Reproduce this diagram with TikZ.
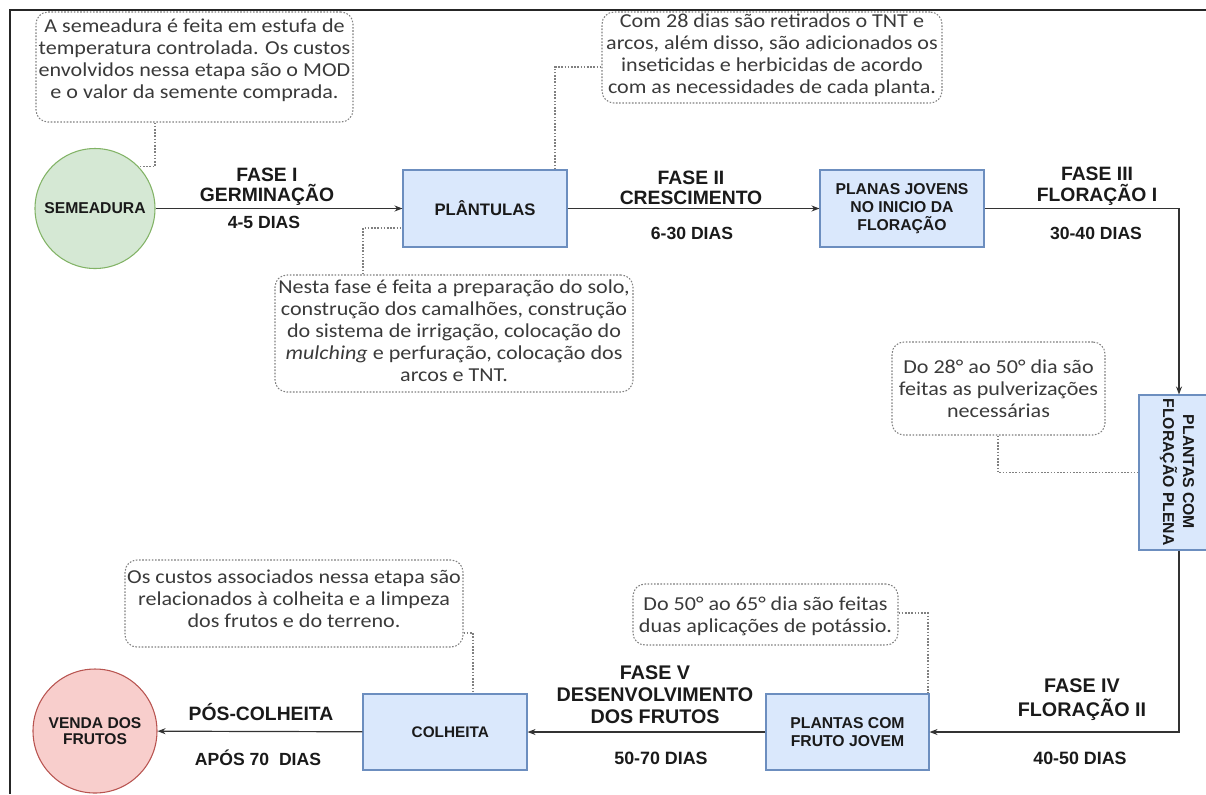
\documentclass[tikz,border=0pt]{standalone}
\usepackage{fontspec}
\setsansfont{Liberation Sans}
\newfontfamily\notefont[FakeStretch=1.12]{Carlito}
\usetikzlibrary{arrows.meta}
\definecolor{gfill}{HTML}{D5E8D4}\definecolor{gline}{HTML}{82B366}
\definecolor{bfill}{HTML}{DAE8FC}\definecolor{bline}{HTML}{6C8EBF}
\definecolor{rfill}{HTML}{F8CECC}\definecolor{rline}{HTML}{B85450}
\definecolor{txt}{HTML}{1A1A1A}\definecolor{notetxt}{HTML}{3A3A3A}
\definecolor{dotc}{HTML}{808080}\definecolor{edgec}{HTML}{333333}
\begin{document}
\begin{tikzpicture}[x=0.75pt,y=-0.75pt,
 lbl/.style 2 args={font=\sffamily\bfseries\fontsize{#1}{#2}\selectfont,align=center,text=txt,inner sep=0pt},
 notebox/.style 2 args={draw=dotc,line width=0.8pt,dash pattern=on 1.2pt off 1.2pt,rounded corners=9pt,inner sep=0pt,minimum width=#1,minimum height=#2},
 notetext/.style={inner sep=0pt,align=center,text=notetxt,font=\notefont\fontsize{14.8}{16.5}\selectfont},
 conn/.style={draw=dotc,line width=0.8pt,dash pattern=on 1.2pt off 1.2pt},
 flow/.style={draw=edgec,line width=0.9pt,-{Stealth[length=6pt,width=4.5pt]}},
 proc/.style 2 args={draw=bline,fill=bfill,line width=0.8pt,inner sep=0pt,minimum width=#1,minimum height=#2},
]
\useasboundingbox (0,0) rectangle (1206,794);
\clip (0,0) rectangle (1206,794);
% frame
\draw[line width=1.5pt,draw=black!85] (1206,9.5) -- (10,9.5) -- (10,794);
% process nodes
\node[circle,draw=gline,fill=gfill,line width=0.8pt,minimum size=90pt,lbl={11.8}{14}] (sem) at (95,208.5) {SEMEADURA};
\node[proc={123pt}{57.75pt},lbl={12.5}{15}] (pl) at (485,208.5) {PLÂNTULAS};
\node[proc={123pt}{57.75pt},lbl={11.8}{13.5}] (pj) at (902,208.5) {PLANAS JOVENS\\NO INICIO DA\\FLORAÇÃO};
\node[proc={60pt}{116.25pt}] (fp) at (1179,472.5) {};
\node[lbl={11.8}{15},rotate=-90] (fptxt) at (1177,472) {PLANTAS COM\\FLORAÇÃO PLENA};
\node[proc={122.25pt}{57pt},lbl={11.8}{14}] (fj) at (847.5,732) {PLANTAS COM\\FRUTO JOVEM};
\node[proc={123pt}{57pt},lbl={11.5}{13}] (col) at (445,732) {\hspace*{8pt}COLHEITA};
\node[circle,draw=rline,fill=rfill,line width=0.8pt,minimum size=93pt,lbl={11.7}{12}] (ven) at (95,731) {VENDA DOS\\FRUTOS};
% notes
\node[notebox={237.75pt}{82.5pt}] (n1) at (194.5,67) {};
\node[notetext] (n1t) at (194.5,60) {A semeadura é feita em estufa de\\temperatura controlada. Os custos\\envolvidos nessa etapa são o MOD\\e o valor da semente comprada.};
\node[notebox={255pt}{68.25pt}] (n2) at (772,57.5) {};
\node[notetext] (n2t) at (772,55) {Com 28 dias são retirados o TNT e\\arcos, além disso, são adicionados os\\inseticidas e herbicidas de acordo\\com as necessidades de cada planta.};
\node[notebox={268.5pt}{87.75pt}] (n3) at (454,333.5) {};
\node[notetext] (n3t) at (454,331) {Nesta fase é feita a preparação do solo,\\construção dos camalhões, construção\\do sistema de irrigação, colocação do\\\textit{mulching} e perfuração, colocação dos\\arcos e TNT.};
\node[notebox={159.75pt}{69.75pt}] (n4) at (998.5,388.5) {};
\node[notetext] (n4t) at (998.5,389) {Do 28° ao 50° dia são\\feitas as pulverizações\\necessárias};
\node[notebox={198.75pt}{45.75pt}] (n5) at (765.5,614.5) {};
\node[notetext] (n5t) at (765.5,616) {Do 50° ao 65° dia são feitas\\duas aplicações de potássio.};
\node[notebox={253.5pt}{65.25pt}] (n6) at (294,603.5) {};
\node[notetext] (n6t) at (294,599) {Os custos associados nessa etapa são\\relacionados à colheita e a limpeza\\dos frutos e do terreno.};
% note connectors
\coordinate (k1) at (155,0);
\draw[conn] (n1.south -| k1) |- (sem.44);
\coordinate (k2) at (555,67);
\draw[conn] (pl.north -| k2) |- (n2.west |- k2);
\coordinate (k3) at (363,228);
\draw[conn] (n3.north -| k3) |- (pl.west |- k3);
\coordinate (k4) at (998,0);
\draw[conn] (n4.south -| k4) |- (fp.west);
\coordinate (k5) at (928,613);
\draw[conn] (n5.east |- k5) -| (fj.north -| k5);
\coordinate (k6) at (473,633);
\draw[conn] (n6.east |- k6) -| (col.north -| k6);
% flow
\draw[flow] (sem) -- (pl);
\draw[flow] (pl) -- (pj);
\draw[flow] (pj.east) -| (fp.north);
\draw[flow] (fp.south) |- (fj.east);
\draw[flow] (fj) -- (col);
\draw[flow] (col) -- (ven);
% phase labels
\node[lbl={14.5}{15}] (l1) at (267,187) {FASE I\\GERMINAÇÃO};
\node[lbl={13.2}{15}] (d1) at (264,222) {4-5 DIAS};
\node[lbl={14.5}{15}] (l2) at (691,188) {FASE II\\CRESCIMENTO};
\node[lbl={13.2}{15}] (d2) at (692,233) {6-30 DIAS};
\node[lbl={14.5}{16}] (l3) at (1097,186) {FASE III\\FLORAÇÃO I};
\node[lbl={13.2}{15}] (d3) at (1096,233) {30-40 DIAS};
\node[lbl={14.8}{18}] (l4) at (1082,700) {FASE IV\\FLORAÇÃO II};
\node[lbl={13.4}{15}] (d4) at (1080,758) {40-50 DIAS};
\node[lbl={14.8}{16.5}] (l5) at (655,695) {FASE V\\DESENVOLVIMENTO\\DOS FRUTOS};
\node[lbl={13.4}{15}] (d5) at (661,758) {50-70 DIAS};
\node[lbl={14.5}{15}] (l6) at (261,712) {PÓS-COLHEITA};
\node[lbl={13.2}{15}] (d6) at (258,758) {APÓS 70~~DIAS};
\end{tikzpicture}
\end{document}
